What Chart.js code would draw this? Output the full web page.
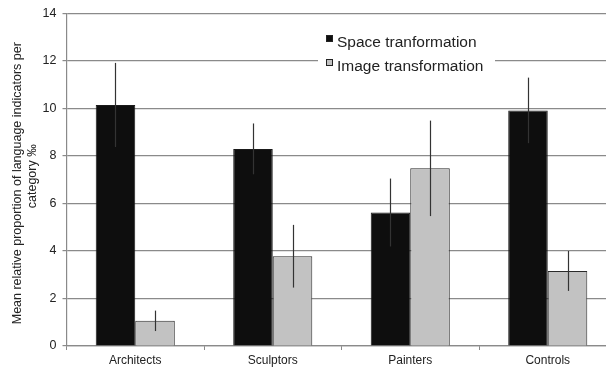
<!DOCTYPE html>
<html>
<head>
<meta charset="utf-8">
<script src="https://cdn.jsdelivr.net/npm/chart.js@4/dist/chart.umd.min.js"></script>
<style>
  html, body { margin: 0; padding: 0; background: #fff; overflow: hidden; width: 606px; height: 368px; }
  canvas { display: block; }
</style>
</head>
<body>
<canvas id="chart" width="630" height="368" style="width:630px;height:368px"></canvas>
<script>
// Mean relative proportion of language indicators (‰) per group
const categories = ['Architects', 'Sculptors', 'Painters', 'Controls'];
const spaceValues = [10.15, 8.3, 5.62, 9.92];
const spaceErrors = [1.77, 1.07, 1.43, 1.38];
const imageValues = [1.06, 3.78, 7.48, 3.16];
const imageErrors = [0.43, 1.32, 2.01, 0.84];
const seriesNames = ['Space tranformation', 'Image transformation'];
const yTicks = [0, 2, 4, 6, 8, 10, 12, 14];

const FONT = '"Liberation Sans", Arial, Helvetica, sans-serif';
const TEXT = '#222';
const GRID = '#8a8a8a';

// vertical error lines through the centre of each bar
const errorBars = {
  id: 'errorBars',
  afterDatasetsDraw(chart) {
    const ctx = chart.ctx;
    const y = chart.scales.y;
    ctx.save();
    ctx.strokeStyle = '#333';
    ctx.lineWidth = 1.2;
    chart.data.datasets.forEach((ds, di) => {
      const meta = chart.getDatasetMeta(di);
      meta.data.forEach((bar, i) => {
        const v = ds.data[i], e = ds.errors[i];
        const x = Math.round(bar.x) + 0.5;
        ctx.beginPath();
        ctx.moveTo(x, y.getPixelForValue(v - e));
        ctx.lineTo(x, y.getPixelForValue(v + e));
        ctx.stroke();
      });
    });
    ctx.restore();
  }
};

// legend box placed inside the plot, over the grid
const innerLegend = {
  id: 'innerLegend',
  afterDraw(chart) {
    const ctx = chart.ctx;
    ctx.save();
    ctx.fillStyle = '#fff';
    ctx.fillRect(318, 26, 177, 50);
    ctx.font = '15.5px ' + FONT;
    ctx.textBaseline = 'alphabetic';
    ctx.textAlign = 'left';
    chart.data.datasets.forEach((ds, i) => {
      const top = 35 + i * 24;
      ctx.fillStyle = ds.backgroundColor;
      ctx.fillRect(326, top, 7, 7);
      ctx.strokeStyle = '#222';
      ctx.lineWidth = 1;
      ctx.strokeRect(326.5, top + 0.5, 6, 6);
      ctx.fillStyle = TEXT;
      ctx.fillText(ds.label, 337, top + 11.5);
    });
    ctx.restore();
  }
};

new Chart(document.getElementById('chart'), {
  type: 'bar',
  data: {
    labels: categories,
    datasets: [
      {
        label: seriesNames[0],
        data: spaceValues,
        errors: spaceErrors,
        backgroundColor: '#0e0e0e',
        borderColor: '#1a1a1a',
        borderWidth: 1,
        categoryPercentage: 0.575,
        barPercentage: 1.0
      },
      {
        label: seriesNames[1],
        data: imageValues,
        errors: imageErrors,
        backgroundColor: '#c2c2c2',
        borderColor: '#2a2a2a',
        borderWidth: 1,
        categoryPercentage: 0.575,
        barPercentage: 1.0
      }
    ]
  },
  options: {
    responsive: false,
    animation: false,
    devicePixelRatio: 1,
    layout: { padding: { left: 0, top: 11, right: 13.5, bottom: 0 } },
    plugins: {
      legend: { display: false },
      tooltip: { enabled: false }
    },
    scales: {
      x: {
        grid: {
          display: true,
          drawOnChartArea: false,
          drawTicks: true,
          tickLength: 4,
          color: GRID,
          offset: true
        },
        border: { display: true, color: GRID, width: 1.2 },
        ticks: {
          color: TEXT,
          font: { family: FONT, size: 12 },
          padding: 3,
          maxRotation: 0
        },
        afterFit(scale) { scale.height = 22; }
      },
      y: {
        min: 0,
        max: 14,
        afterBuildTicks(scale) { scale.ticks = yTicks.map(v => ({ value: v })); },
        grid: {
          color: GRID,
          lineWidth: 1.2,
          tickLength: 4,
          drawTicks: true
        },
        border: { display: true, color: GRID, width: 1.2 },
        ticks: {
          color: TEXT,
          font: { family: FONT, size: 12.5 },
          padding: 6
        },
        title: {
          display: true,
          text: ['Mean relative proportion of language indicators per  ', '  category ‰'],
          color: TEXT,
          font: { family: FONT, size: 12.5, lineHeight: 1.15 },
          padding: { top: 10.8, bottom: 0 }
        },
        afterFit(scale) { scale.width = 66.5; }
      }
    }
  },
  plugins: [errorBars, innerLegend]
});
</script>
</body>
</html>
